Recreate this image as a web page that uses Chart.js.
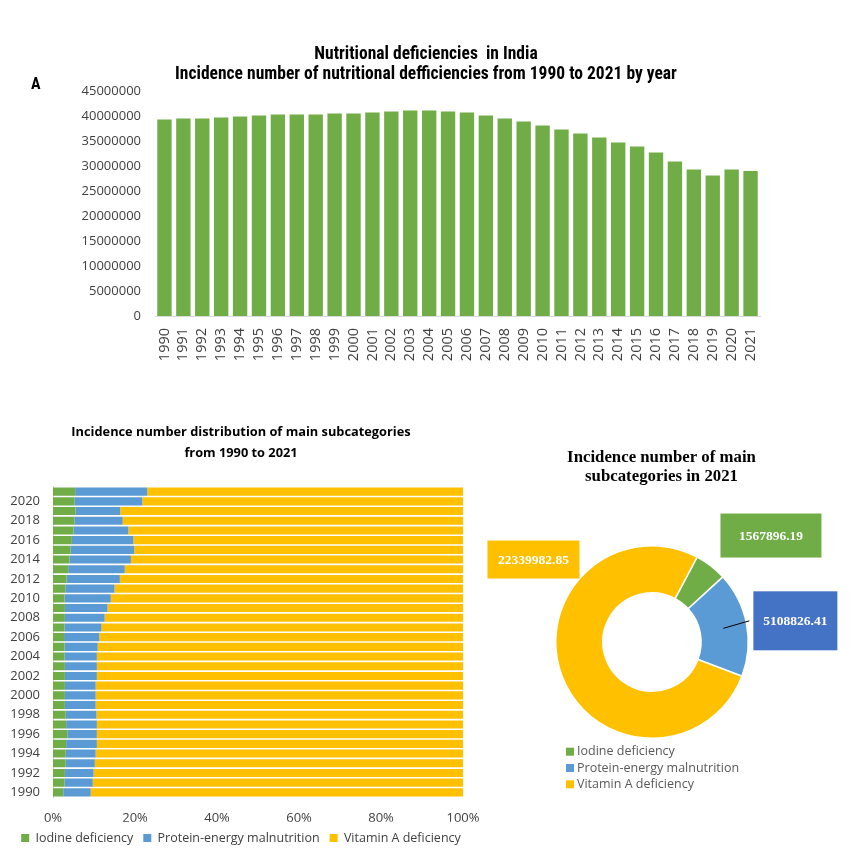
<!DOCTYPE html>
<html>
<head>
<meta charset="utf-8">
<script src="https://cdn.jsdelivr.net/npm/chart.js@4.4.1/dist/chart.umd.min.js"></script>
<style>
html,body{margin:0;padding:0;background:#ffffff;width:852px;height:857px;overflow:hidden;}
canvas{position:absolute;}
#c1{left:0;top:0;width:852px;height:400px;}
#c2{left:0;top:400px;width:482px;height:457px;}
#c3{left:470px;top:400px;width:382px;height:457px;}
</style>
</head>
<body>
<canvas id="c1" width="852" height="400"></canvas>
<canvas id="c2" width="482" height="457"></canvas>
<canvas id="c3" width="382" height="457"></canvas>
<script>
// ---------- DATA ----------
const years = ['1990','1991','1992','1993','1994','1995','1996','1997','1998','1999',
  '2000','2001','2002','2003','2004','2005','2006','2007','2008','2009',
  '2010','2011','2012','2013','2014','2015','2016','2017','2018','2019','2020','2021'];

// Panel A: total incidence number by year
const totalIncidence = [39300000,39500000,39500000,39700000,39900000,40100000,40300000,40300000,
  40300000,40500000,40500000,40700000,40900000,41100000,41100000,40900000,40700000,40100000,
  39500000,38900000,38100000,37300000,36500000,35700000,34700000,33900000,32700000,30900000,
  29300000,28100000,29300000,29000000];
const yTickMax = 45000000;
const yTickStep = 5000000;

// Panel B: share (%) of each subcategory, 1990..2021
const iodineShare = [2.5,2.8,2.9,3.1,3.1,3.2,3.5,3.2,3.1,2.9,2.9,2.9,2.9,2.9,2.8,2.8,
  2.7,2.8,2.9,2.9,2.8,3.0,3.3,3.7,4.0,4.3,4.6,5.0,5.2,5.5,5.2,5.4];
const pemShare = [6.7,6.9,7.0,7.1,7.3,7.5,7.2,7.5,7.5,7.5,7.5,7.5,7.8,7.8,7.9,8.1,
  8.6,9.0,9.7,10.4,11.3,12.0,13.0,13.8,15.0,15.5,15.0,13.4,11.8,10.9,16.6,17.6];
const vitaminAShare = [90.8,90.3,90.1,89.8,89.6,89.3,89.3,89.3,89.4,89.6,89.6,89.6,89.3,89.3,89.3,89.1,
  88.7,88.2,87.4,86.7,85.9,85.0,83.7,82.5,81.0,80.2,80.4,81.6,83.0,83.6,78.2,77.0];
const shareTickStep = 20;

// Panel C: incidence number of main subcategories in 2021
const subcategories = ['Iodine deficiency','Protein-energy malnutrition','Vitamin A deficiency'];
const incidence2021 = [1567896.19, 5108826.41, 22339982.85];

// ---------- STYLE ----------
const GREEN = '#70AD47', BLUE = '#5B9BD5', YELLOW = '#FFC000', DARKBLUE = '#4472C4';
const TICK = '#404040';
const SANS = "'Open Sans', 'Noto Sans', sans-serif";
const NARROW = "'Liberation Sans Narrow', 'Roboto Condensed', 'Liberation Sans', sans-serif";
const SERIF = "'Liberation Serif', 'DejaVu Serif', serif";

// ---------- PLUGINS ----------
const panelLetter = {
  id: 'panelLetter',
  afterDraw(chart, args, opts) {
    const ctx = chart.ctx;
    ctx.save();
    ctx.font = opts.font;
    ctx.fillStyle = opts.color;
    ctx.textAlign = 'left';
    ctx.textBaseline = 'middle';
    ctx.fillText(opts.text, opts.x, opts.y);
    ctx.restore();
  }
};

const panelTitle = {
  id: 'panelTitle',
  afterDraw(chart, args, opts) {
    const ctx = chart.ctx;
    ctx.save();
    ctx.font = opts.font;
    ctx.fillStyle = opts.color;
    ctx.textAlign = 'center';
    ctx.textBaseline = 'middle';
    opts.lines.forEach((t, i) => ctx.fillText(t, opts.x, opts.y + i * opts.lineHeight));
    ctx.restore();
  }
};

const donutLabels = {
  id: 'donutLabels',
  afterDatasetsDraw(chart, args, opts) {
    const ctx = chart.ctx;
    const meta = chart.getDatasetMeta(0);
    const values = chart.data.datasets[0].data;
    meta.data.forEach((arc, i) => {
      const b = opts.boxes[i];
      const p = arc.tooltipPosition();
      const cx = p.x + b.dx, cy = p.y + b.dy;
      const left = cx - b.w / 2, top = cy - b.h / 2;
      ctx.save();
      if (b.leader) {
        ctx.strokeStyle = '#000000';
        ctx.lineWidth = 1;
        ctx.beginPath();
        ctx.moveTo(p.x, p.y);
        ctx.lineTo(left - 4, cy);
        ctx.stroke();
      }
      ctx.fillStyle = b.fill;
      ctx.fillRect(left, top, b.w, b.h);
      ctx.fillStyle = '#ffffff';
      ctx.font = opts.font;
      ctx.textAlign = 'center';
      ctx.textBaseline = 'middle';
      ctx.fillText(Number(values[i]).toFixed(2), cx, cy + 1);
      ctx.restore();
    });
  }
};

const listLegend = {
  id: 'listLegend',
  afterDraw(chart, args, opts) {
    const ctx = chart.ctx;
    const colors = chart.data.datasets[0].backgroundColor;
    ctx.save();
    ctx.font = opts.font;
    ctx.textBaseline = 'middle';
    ctx.textAlign = 'left';
    chart.data.labels.forEach((lab, i) => {
      const y = opts.y + i * opts.lineHeight;
      ctx.fillStyle = colors[i];
      ctx.fillRect(opts.x, y - opts.box / 2, opts.box, opts.box);
      ctx.fillStyle = opts.color;
      ctx.fillText(lab, opts.x + opts.box + opts.gap, y);
    });
    ctx.restore();
  }
};

// ---------- CHART A ----------
new Chart(document.getElementById('c1'), {
  type: 'bar',
  data: {
    labels: years,
    datasets: [{ data: totalIncidence, backgroundColor: GREEN, barPercentage: 0.76, categoryPercentage: 1 }]
  },
  options: {
    responsive: false, animation: false, devicePixelRatio: 1,
    layout: { padding: 0 },
    plugins: {
      legend: { display: false },
      tooltip: { enabled: false },
      title: {
        display: true,
        text: ['Nutritional deficiencies  in India', 'Incidence number of nutritional defficiencies from 1990 to 2021 by year'],
        color: '#000000',
        font: { family: NARROW, size: 17.5, weight: 'bold', lineHeight: 20 / 17.5 },
        padding: { top: 45, bottom: 6 }
      },
      panelLetter: { text: 'A', x: 31, y: 85, font: "bold 16px " + NARROW, color: '#000000' }
    },
    scales: {
      x: {
        grid: { display: false, drawTicks: false },
        border: { color: '#D9D9D9', width: 1 },
        ticks: { autoSkip: false, minRotation: 90, maxRotation: 90, padding: 12, color: TICK, font: { family: SANS, size: 14.5 } },
        afterFit(s) { s.height = 84; s.paddingLeft = 0; s.paddingRight = 92; }
      },
      y: {
        min: 0, max: yTickMax,
        grid: { display: false, drawTicks: false },
        border: { display: false },
        ticks: { stepSize: yTickStep, padding: 14, color: TICK, font: { family: SANS, size: 13 }, callback: v => String(v) },
        afterFit(s) { s.width = 155; }
      }
    }
  },
  plugins: [panelLetter]
});

// ---------- CHART B ----------
new Chart(document.getElementById('c2'), {
  type: 'bar',
  data: {
    labels: years,
    datasets: [
      { label: subcategories[0], data: iodineShare, backgroundColor: GREEN },
      { label: subcategories[1], data: pemShare, backgroundColor: BLUE },
      { label: subcategories[2], data: vitaminAShare, backgroundColor: YELLOW }
    ]
  },
  options: {
    indexAxis: 'y',
    responsive: false, animation: false, devicePixelRatio: 1,
    datasets: { bar: { barPercentage: 0.84, categoryPercentage: 1 } },
    layout: { padding: { left: 0, right: 0, top: 0, bottom: 2.75 } },
    plugins: {
      tooltip: { enabled: false },
      title: {
        display: true,
        text: ['Incidence number distribution of main subcategories', 'from 1990 to 2021'],
        color: '#000000',
        font: { family: SANS, size: 12.8, weight: 'bold', lineHeight: 21 / 12.8 },
        padding: { top: 21.5, bottom: 23.3 }
      },
      legend: {
        position: 'bottom',
        labels: { boxWidth: 8, boxHeight: 8, padding: 10, color: TICK, font: { family: SANS, size: 12.5 } }
      }
    },
    scales: {
      x: {
        stacked: true, min: 0, max: 100,
        grid: { display: false, drawTicks: false },
        border: { display: false },
        ticks: { stepSize: shareTickStep, padding: 13, color: TICK, font: { family: SANS, size: 13 }, callback: v => v + '%' },
        afterFit(s) { s.height = 24.55; s.paddingLeft = 0; s.paddingRight = 19; }
      },
      y: {
        stacked: true, reverse: true,
        grid: { display: false, drawTicks: false },
        border: { color: '#D9D9D9', width: 1 },
        ticks: {
          autoSkip: false, padding: 13, color: TICK, font: { family: SANS, size: 13 },
          callback(v) { const l = this.getLabelForValue(v); return (Number(l) % 2 === 0) ? l : ''; }
        },
        afterFit(s) { s.width = 53; }
      }
    }
  }
});

// ---------- CHART C ----------
new Chart(document.getElementById('c3'), {
  type: 'doughnut',
  data: {
    labels: subcategories,
    datasets: [{
      data: incidence2021,
      backgroundColor: [GREEN, BLUE, YELLOW],
      borderColor: '#ffffff',
      borderWidth: 1.5
    }]
  },
  options: {
    responsive: false, animation: false, devicePixelRatio: 1,
    rotation: 28,
    cutout: '51%',
    layout: { padding: { left: 85, right: 103, top: 99, bottom: 72 } },
    plugins: {
      legend: { display: false },
      tooltip: { enabled: false },
      title: { display: false },
      panelTitle: {
        lines: ['Incidence number of main', 'subcategories in 2021'],
        x: 191.5, y: 58, lineHeight: 18.5,
        font: "bold 16.8px " + SERIF, color: '#000000'
      },
      donutLabels: {
        font: "bold 13.5px " + SERIF,
        boxes: [
          { dx: 74.5, dy: -49, w: 101, h: 44, fill: GREEN },
          { dx: 72, dy: -7.5, w: 84, h: 59, fill: DARKBLUE, leader: true },
          { dx: -50.5, dy: -108, w: 92, h: 38, fill: YELLOW }
        ]
      },
      listLegend: { x: 96, y: 351.7, lineHeight: 16.3, box: 8, gap: 3, font: "12.5px " + SANS, color: '#595959' }
    }
  },
  plugins: [panelTitle, donutLabels, listLegend]
});
</script>
</body>
</html>
